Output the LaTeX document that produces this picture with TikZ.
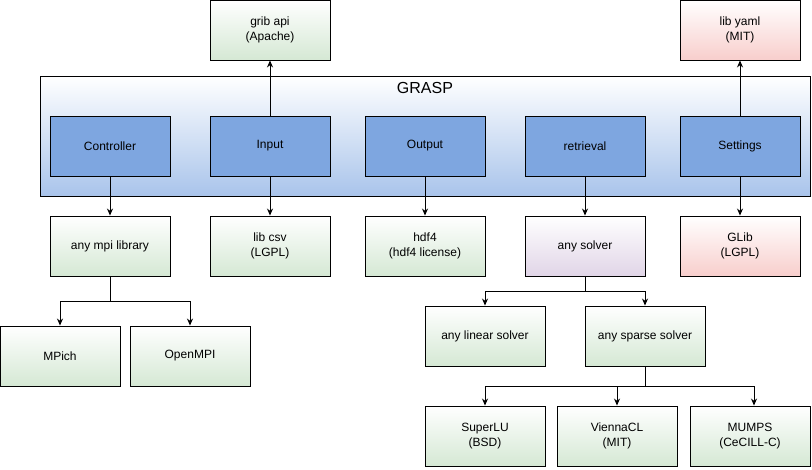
\documentclass[tikz,border=0pt]{standalone}
\usepackage{fontspec}
\setmainfont{Liberation Sans}
\usetikzlibrary{arrows.meta}
\definecolor{bluefill}{HTML}{7EA6E0}
\definecolor{bluegrad}{HTML}{A9C4EB}
\definecolor{greengrad}{HTML}{D5E8D4}
\definecolor{redgrad}{HTML}{F8CECC}
\definecolor{purplegrad}{HTML}{E1D5E7}
\begin{document}
\begin{tikzpicture}[x=1pt,y=-1pt,
  base/.style={draw=black, line width=0.9pt, minimum width=120pt, minimum height=60pt, inner sep=0pt, align=center, font=\fontsize{12}{15}\selectfont},
  module/.style={base, fill=bluefill},
  greenlib/.style={base, top color=white, bottom color=greengrad},
  redlib/.style={base, top color=white, bottom color=redgrad},
  purplelib/.style={base, top color=white, bottom color=purplegrad},
  container/.style={draw=black, line width=0.9pt, top color=white, bottom color=bluegrad, minimum width=770pt, minimum height=120pt, inner sep=0pt},
  conn/.style={line width=0.9pt, -{Stealth[length=7pt,width=6pt]}},
  title/.style={font=\fontsize{16}{18}\selectfont, inner sep=0pt}]
\useasboundingbox (0,0) rectangle (812,470);

% container
\node[container] (grasp) at (425,136) {};
\node[title] (grasplabel) at (425,88) {GRASP};

% top
\node[greenlib] (grib) at (270,30) {grib api\\(Apache)};
\node[redlib] (yaml) at (740,30) {lib yaml\\(MIT)};

% modules
\node[module] (ctrl) at (110,146) {Controller};
\node[module] (input) at (270,146) {Input};
\node[module] (output) at (425,146) {Output};
\node[module] (retr) at (585,146) {retrieval};
\node[module] (sett) at (740,146) {Settings};

% second row
\node[greenlib] (mpi) at (110,246) {any mpi library};
\node[greenlib] (csv) at (270,246) {lib csv\\(LGPL)};
\node[greenlib] (hdf) at (425,246) {hdf4\\(hdf4 license)};
\node[purplelib] (solver) at (585,246) {any solver};
\node[redlib] (glib) at (740,246) {GLib\\(LGPL)};

% third row
\node[greenlib] (mpich) at (60,356) {MPich};
\node[greenlib] (openmpi) at (190,356) {OpenMPI};
\node[greenlib] (linear) at (485,336) {any linear solver};
\node[greenlib] (sparse) at (645,336) {any sparse solver};

% bottom row
\node[greenlib] (superlu) at (485,436) {SuperLU\\(BSD)};
\node[greenlib] (vienna) at (617,436) {ViennaCL\\(MIT)};
\node[greenlib] (mumps) at (750,436) {MUMPS\\(CeCILL-C)};

\coordinate (j1) at (110,301);
\coordinate (j2) at (585,291);
\coordinate (j3) at (645,386);

% connectors
\draw[conn] (input.north) -- (grib.south);
\draw[conn] (sett.north) -- (yaml.south);
\draw[conn] (ctrl.south) -- (mpi.north);
\draw[conn] (input.south) -- (csv.north);
\draw[conn] (output.south) -- (hdf.north);
\draw[conn] (retr.south) -- (solver.north);
\draw[conn] (sett.south) -- (glib.north);

\draw[conn] (mpi.south) -- (j1) -| (mpich.north);
\draw[conn] (mpi.south) -- (j1) -| (openmpi.north);

\draw[conn] (solver.south) -- (j2) -| (linear.north);
\draw[conn] (solver.south) -- (j2) -| (sparse.north);

\draw[conn] (sparse.south) -- (j3) -| (superlu.north);
\draw[conn] (sparse.south) -- (j3) -| (vienna.north);
\draw[conn] (sparse.south) -- (j3) -| ([xshift=4pt]mumps.north);
\end{tikzpicture}
\end{document}
